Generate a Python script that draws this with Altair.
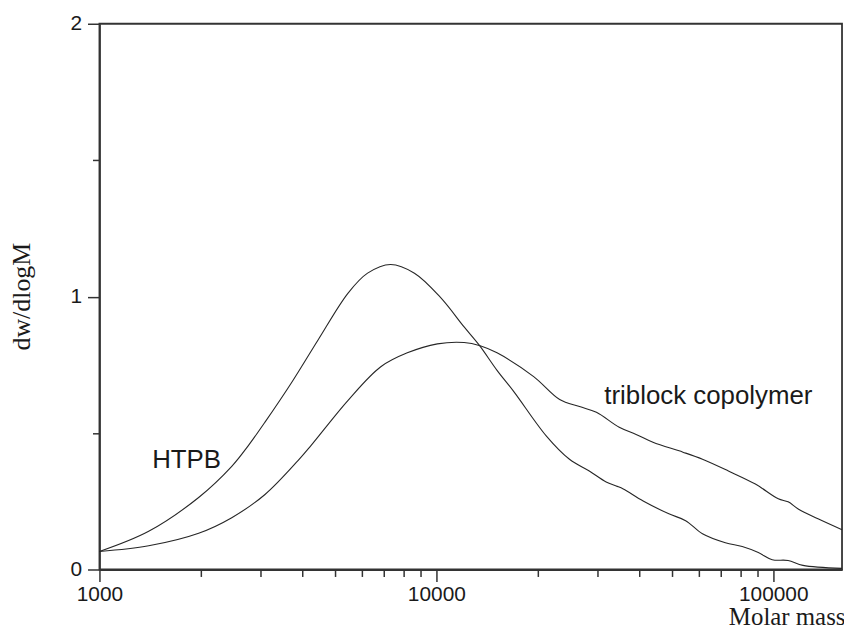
import altair as alt
import pandas as pd

# HTPB curve (molar mass, dw/dlogM)
htpb_m = [1000, 1400, 1970, 2470, 2770, 3100, 3740, 4460, 5470, 6250, 7310, 8610,
          10270, 12090, 13390, 15140, 16980, 21250, 24840, 28440, 31920, 34200, 35880,
          41100, 49000, 54950, 61650, 72100, 80900, 90300, 99300, 110700, 122500, 160000]
htpb_v = [0.066, 0.140, 0.264, 0.378, 0.455, 0.540, 0.690, 0.842, 1.013, 1.086, 1.118, 1.086,
          0.998, 0.889, 0.823, 0.730, 0.652, 0.488, 0.404, 0.361, 0.321, 0.306, 0.295,
          0.251, 0.204, 0.179, 0.131, 0.098, 0.084, 0.062, 0.036, 0.033, 0.015, 0.004]

# triblock copolymer curve
tri_m = [1000, 1400, 1970, 2470, 3100, 3890, 4250, 5470, 6840, 8200, 10070, 12090,
         13490, 15140, 19450, 23230, 26600, 29860, 34900, 39170, 43950, 53950, 61650,
         73600, 88500, 103500, 110700, 118600, 135800, 160000]
tri_v = [0.066, 0.087, 0.133, 0.190, 0.275, 0.400, 0.455, 0.620, 0.743, 0.794, 0.827, 0.832,
         0.820, 0.794, 0.707, 0.623, 0.597, 0.576, 0.521, 0.495, 0.466, 0.430, 0.404,
         0.361, 0.313, 0.259, 0.248, 0.222, 0.186, 0.146]

x_major = [1000, 10000, 100000]
x_minor = [2000, 3000, 4000, 5000, 6000, 7000, 8000, 9000,
           20000, 30000, 40000, 50000, 60000, 70000, 80000, 90000]
y_major = [0, 1, 2]
y_minor = [0.5, 1.5]

label_text = ["HTPB", "triblock copolymer"]
label_m = [1434, 31510]
label_v = [0.372, 0.608]

df = pd.concat([
    pd.DataFrame({"M": htpb_m, "v": htpb_v, "series": "HTPB"}),
    pd.DataFrame({"M": tri_m, "v": tri_v, "series": "triblock copolymer"}),
], ignore_index=True)
lab_df = pd.DataFrame({"M": label_m, "v": label_v, "t": label_text})

xscale = alt.Scale(type="log", domain=[1000, 160000], nice=False)
yscale = alt.Scale(domain=[0, 2], nice=False, zero=False)

SANS = "Liberation Sans"
SERIF = "Liberation Serif"
AX = "#333333"
TXT = "#1a1a1a"

x_axis_major = alt.Axis(values=x_major, format=".0f", orient="bottom", grid=False,
                        tickCount=10, labelFlush=False,
                        labelFont=SANS, labelFontSize=21, labelColor=TXT, labelPadding=2,
                        tickSize=12, tickWidth=1.5, tickColor=AX,
                        domainColor=AX, domainWidth=1.8,
                        title="Molar mass", titleFont=SERIF, titleFontSize=25,
                        titleFontWeight="normal", titleColor=TXT,
                        titleAlign="right", titleAnchor="end", titleX=750, titleY=55,
                        titleBaseline="alphabetic")
y_axis_major = alt.Axis(values=y_major, format=".0f", orient="left", grid=False,
                        tickCount=10, labelFlush=False,
                        labelFont=SANS, labelFontSize=21, labelColor=TXT, labelPadding=6,
                        tickSize=12, tickWidth=1.5, tickColor=AX,
                        domainColor=AX, domainWidth=1.8,
                        title="dw/dlogM", titleFont=SERIF, titleFontSize=26,
                        titleFontWeight="normal", titleColor=TXT,
                        titleAngle=270, titleAlign="center", titleX=-70, titleY=274,
                        titleBaseline="alphabetic")

x_axis_minor = alt.Axis(values=x_minor, orient="bottom", grid=False, labels=False,
                        tickCount=20, domain=False, tickSize=7, tickWidth=1.5,
                        tickColor=AX, title=None)
y_axis_minor = alt.Axis(values=y_minor, orient="left", grid=False, labels=False,
                        tickCount=10, domain=False, tickSize=7, tickWidth=1.5,
                        tickColor=AX, title=None)

lines = alt.Chart(df).mark_line(interpolate="catmull-rom", color="#262626", strokeWidth=1.1).encode(
    x=alt.X("M:Q", scale=xscale, axis=x_axis_major),
    y=alt.Y("v:Q", scale=yscale, axis=y_axis_major),
    detail="series:N",
    order="M:Q",
)

minor = alt.Chart(df).mark_point(opacity=0).encode(
    x=alt.X("M:Q", scale=xscale, axis=x_axis_minor),
    y=alt.Y("v:Q", scale=yscale, axis=y_axis_minor),
)

labels = alt.Chart(lab_df).mark_text(align="left", baseline="alphabetic", font=SANS,
                                     fontSize=26, color=TXT).encode(
    x=alt.X("M:Q", scale=xscale, axis=None),
    y=alt.Y("v:Q", scale=yscale, axis=None),
    text="t:N",
)

chart = alt.layer(lines, minor, labels).resolve_axis(
    x="independent", y="independent"
).properties(
    width=747, height=549,
    autosize=alt.AutoSizeParams(type="none"),
    padding={"left": 92, "top": 14, "right": 2, "bottom": 58},
    background="white",
).configure_view(stroke=AX, strokeWidth=1.8)

chart.save("out.html", embed_options={"renderer": "svg", "actions": False})
